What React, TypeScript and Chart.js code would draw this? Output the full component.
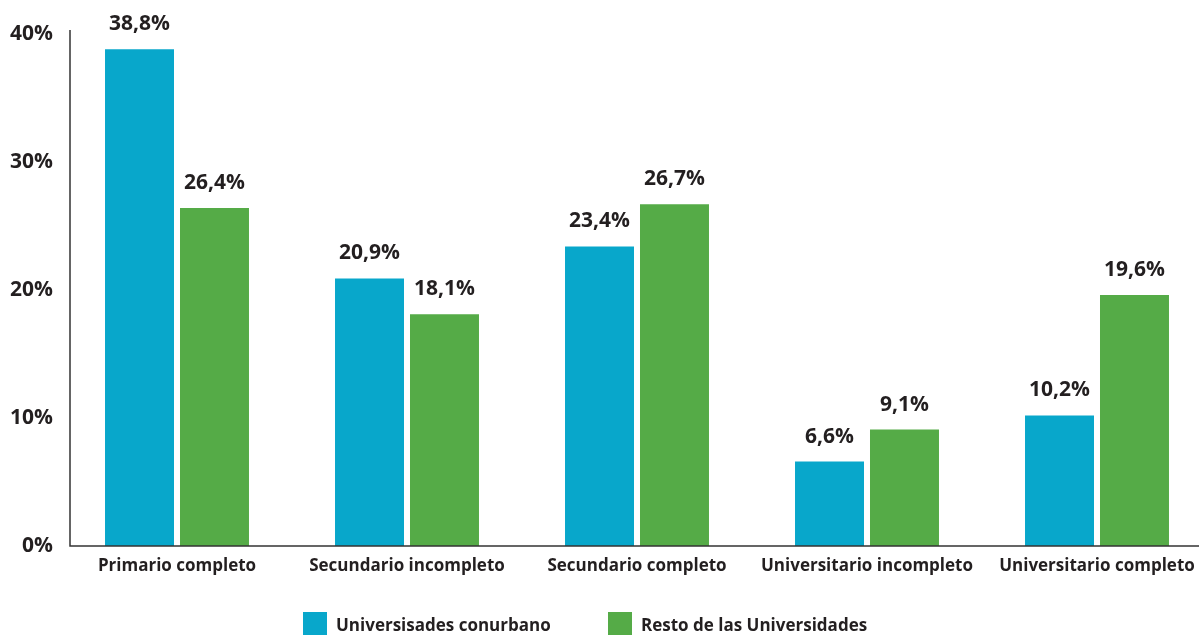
import React, { useEffect, useRef } from "react";
import { Chart, registerables } from "chart.js";

Chart.register(...registerables);

const categories = [
  "Primario completo",
  "Secundario incompleto",
  "Secundario completo",
  "Universitario incompleto",
  "Universitario completo",
];
const conurbano = [38.8, 20.9, 23.4, 6.6, 10.2];
const resto = [26.4, 18.1, 26.7, 9.1, 19.6];
const seriesNames = ["Universisades conurbano", "Resto de las Universidades"];
const yTicks = [0, 10, 20, 30, 40];

const BLUE = "#08a7cb";
const GREEN = "#55ab47";
const TEXT = "#231f20";
const FONT = "'Open Sans', sans-serif";

const fmt = (v: number) => v.toFixed(1).replace(".", ",") + "%";

const customPlugin = {
  id: "custom",
  afterDraw(chart: any) {
    const ctx = chart.ctx;
    const area = chart.chartArea;
    ctx.save();
    // axis lines
    ctx.strokeStyle = "#333333";
    ctx.lineWidth = 1.5;
    ctx.beginPath();
    ctx.moveTo(70, 30);
    ctx.lineTo(70, area.bottom);
    ctx.lineTo(chart.width, area.bottom);
    ctx.stroke();
    // value labels
    ctx.fillStyle = TEXT;
    ctx.font = `bold 21px ${FONT}`;
    ctx.textAlign = "center";
    ctx.textBaseline = "alphabetic";
    chart.data.datasets.forEach((ds: any, di: number) => {
      const meta = chart.getDatasetMeta(di);
      meta.data.forEach((bar: any, i: number) => {
        ctx.fillText(fmt(ds.data[i]), bar.x, bar.y - 19);
      });
    });
    // legend
    const items = [
      { x: 303, color: BLUE, label: chart.data.datasets[0].label },
      { x: 608, color: GREEN, label: chart.data.datasets[1].label },
    ];
    ctx.font = `bold 17px ${FONT}`;
    ctx.textAlign = "left";
    ctx.textBaseline = "middle";
    items.forEach((it) => {
      ctx.fillStyle = it.color;
      ctx.fillRect(it.x, 612, 24, 24);
      ctx.fillStyle = TEXT;
      ctx.fillText(it.label, it.x + 33, 626);
    });
    ctx.restore();
  },
};

export default function App() {
  const ref = useRef<HTMLCanvasElement>(null);
  useEffect(() => {
    if (!ref.current) return;
    const chart = new Chart(ref.current, {
      type: "bar",
      data: {
        labels: categories,
        datasets: [
          {
            label: seriesNames[0],
            data: conurbano,
            backgroundColor: BLUE,
            barPercentage: 0.92,
            categoryPercentage: 0.652,
          },
          {
            label: seriesNames[1],
            data: resto,
            backgroundColor: GREEN,
            barPercentage: 0.92,
            categoryPercentage: 0.652,
          },
        ],
      },
      options: {
        animation: false,
        responsive: false,
        layout: { padding: { top: 34, right: 3, left: 0, bottom: 0 } },
        plugins: {
          legend: { display: false },
          tooltip: { enabled: false },
        },
        scales: {
          x: {
            grid: { display: false, drawTicks: false },
            border: { display: false },
            ticks: {
              color: TEXT,
              font: { family: FONT, size: 17, weight: "bold" },
              padding: 10,
              maxRotation: 0,
              autoSkip: false,
            },
            afterFit: (s: any) => {
              s.height = 89;
            },
          },
          y: {
            min: 0,
            max: 40,
            grid: { display: false, drawTicks: false },
            border: { display: false },
            afterBuildTicks: (s: any) => {
              s.ticks = yTicks.map((v) => ({ value: v }));
            },
            ticks: {
              color: TEXT,
              font: { family: FONT, size: 21, weight: "bold" },
              padding: 9,
              callback: (v: any) => v + "%",
            },
            afterFit: (s: any) => {
              s.width = 62;
            },
          },
        },
      },
      plugins: [customPlugin],
    });
    return () => chart.destroy();
  }, []);
  return (
    <div
      style={{
        position: "fixed",
        left: 0,
        top: 0,
        width: 1199,
        height: 635,
        overflow: "hidden",
        background: "#fff",
      }}
    >
      <canvas ref={ref} width={1215} height={635} style={{ display: "block" }} />
    </div>
  );
}
